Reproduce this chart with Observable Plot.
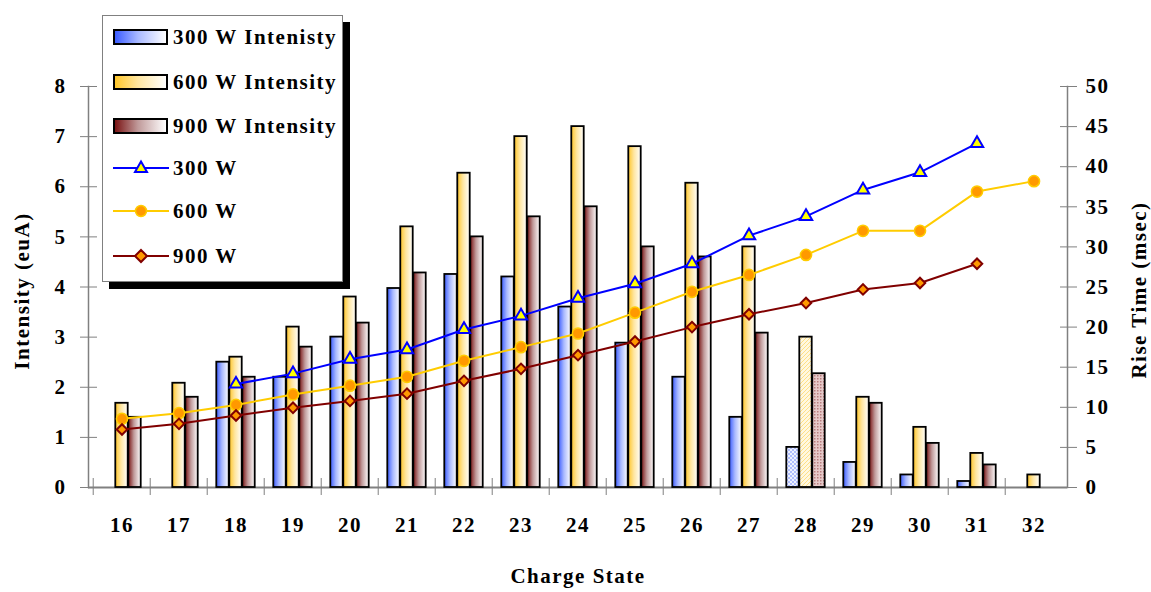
<!DOCTYPE html>
<html>
<head>
<meta charset="utf-8">
<script src="https://cdn.jsdelivr.net/npm/d3@7"></script>
<script src="https://cdn.jsdelivr.net/npm/@observablehq/plot@0.6"></script>
<style>
  body { margin: 0; background: #fff; }
  #wrap { position: relative; width: 1151px; height: 592px; font-family: "Liberation Serif", serif; font-weight: bold; }
  #chart svg text { letter-spacing: 1.5px; }
  #legend { position: absolute; left: 102px; top: 15px; width: 241px; height: 267px; border: 1.5px solid #808080;
            background: #fff; box-shadow: 7px 7px 0 #000; box-sizing: border-box; }
  .row { position: absolute; left: 0; width: 240px; height: 24px; }
  .sw { position: absolute; left: 10px; top: 4px; width: 55px; height: 16px; box-sizing: border-box; border: 2px solid #000; }
  .lbl { position: absolute; left: 70px; top: 0; font-size: 21px; line-height: 24px; letter-spacing: 1.5px; white-space: nowrap; color: #000; }
  .ln { position: absolute; left: 10px; top: 0; }
  #defs { position: absolute; width: 0; height: 0; }
</style>
</head>
<body>
<svg id="defs" aria-hidden="true">
  <defs>
    <linearGradient id="gB" x1="0" x2="1" y1="0" y2="0">
      <stop offset="0" stop-color="#3b5cff"/>
      <stop offset="0.45" stop-color="#a9b9ff"/>
      <stop offset="1" stop-color="#ffffff"/>
    </linearGradient>
    <linearGradient id="gY" x1="0" x2="1" y1="0" y2="0">
      <stop offset="0" stop-color="#ffc62a"/>
      <stop offset="0.45" stop-color="#ffe6a0"/>
      <stop offset="1" stop-color="#ffffff"/>
    </linearGradient>
    <linearGradient id="gR" x1="0" x2="1" y1="0" y2="0">
      <stop offset="0" stop-color="#7a1414"/>
      <stop offset="0.45" stop-color="#c09a9a"/>
      <stop offset="1" stop-color="#ffffff"/>
    </linearGradient>
    <pattern id="pB" width="4" height="4" patternUnits="userSpaceOnUse">
      <rect width="4" height="4" fill="#eef2ff"/>
      <path d="M0,0L4,4M4,0L0,4" stroke="#9fb3ff" stroke-width="0.8"/>
    </pattern>
    <pattern id="pY" width="4" height="4" patternUnits="userSpaceOnUse">
      <rect width="4" height="4" fill="#fff8e0"/>
      <path d="M-1,1L1,-1M0,4L4,0M3,5L5,3" stroke="#ffdf85" stroke-width="1"/>
    </pattern>
    <pattern id="pR" width="3" height="3" patternUnits="userSpaceOnUse">
      <rect width="3" height="3" fill="#e6caca"/>
      <rect width="1.5" height="1.5" fill="#b87f7f"/>
    </pattern>
  </defs>
</svg>
<div id="wrap">
  <div id="chart"></div>
  <div id="legend">
    <div class="row" style="top:9px"><div class="sw" style="background:linear-gradient(to right,#3b5cff,#a9b9ff 45%,#fff)"></div><div class="lbl">300 W Intenisty</div></div>
    <div class="row" style="top:54px"><div class="sw" style="background:linear-gradient(to right,#ffc62a,#ffe6a0 45%,#fff)"></div><div class="lbl">600 W Intensity</div></div>
    <div class="row" style="top:98px"><div class="sw" style="background:linear-gradient(to right,#7a1414,#c09a9a 45%,#fff)"></div><div class="lbl">900 W Intensity</div></div>
    <div class="row" style="top:140px"><svg class="ln" width="56" height="24"><line x1="0" x2="56" y1="12" y2="12" stroke="#0000ff" stroke-width="2"/><path d="M28,5.5L34,16L22,16Z" fill="#ffff00" stroke="#0000ff" stroke-width="2"/></svg><div class="lbl">300 W</div></div>
    <div class="row" style="top:183px"><svg class="ln" width="56" height="24"><line x1="0" x2="56" y1="12" y2="12" stroke="#ffcc00" stroke-width="2"/><circle cx="28" cy="12" r="5.5" fill="#ff9900" stroke="#ffcc00" stroke-width="1.5"/></svg><div class="lbl">600 W</div></div>
    <div class="row" style="top:228px"><svg class="ln" width="56" height="24"><line x1="0" x2="56" y1="12" y2="12" stroke="#800000" stroke-width="2"/><path d="M28,6L34,12L28,18L22,12Z" fill="#ff9900" stroke="#800000" stroke-width="2"/></svg><div class="lbl">900 W</div></div>
  </div>
</div>
<script>
// ---- data ----
const chargeStates = [16, 17, 18, 19, 20, 21, 22, 23, 24, 25, 26, 27, 28, 29, 30, 31, 32];
// Intensity (euA), left axis
const int300 = [null, null, 2.5, 2.2, 3.0, 3.97, 4.25, 4.2, 3.6, 2.88, 2.2, 1.4, 0.8, 0.5, 0.25, 0.12, null];
const int600 = [1.68, 2.08, 2.6, 3.2, 3.8, 5.2, 6.27, 7.0, 7.2, 6.8, 6.07, 4.8, 3.0, 1.8, 1.2, 0.68, 0.25];
const int900 = [1.4, 1.8, 2.2, 2.8, 3.28, 4.28, 5.0, 5.4, 5.6, 4.8, 4.6, 3.08, 2.27, 1.68, 0.88, 0.45, null];
// Rise time (msec), right axis
const rise300 = [null, null, 12.9, 14.2, 16.0, 17.2, 19.7, 21.4, 23.6, 25.4, 27.9, 31.4, 33.8, 37.1, 39.3, 42.9, null];
const rise600 = [8.56, 9.27, 10.3, 11.6, 12.7, 13.8, 15.8, 17.5, 19.2, 21.8, 24.4, 26.5, 29.0, 32.0, 32.0, 36.9, 38.2];
const rise900 = [7.23, 7.94, 8.98, 9.94, 10.8, 11.7, 13.3, 14.8, 16.5, 18.2, 20.0, 21.6, 23.0, 24.7, 25.5, 27.9, null];
const leftTicks = [0, 1, 2, 3, 4, 5, 6, 7, 8];
const rightTicks = [0, 5, 10, 15, 20, 25, 30, 35, 40, 45, 50];
const yMax = 8, tMax = 50;
const patternedState = 28;

// ---- layout ----
const W = 1151, H = 592;
const mL = 88, mR = 84, mT = 86, mB = 105;
const bw = (W - mL - mR) / chargeStates.length;
const barW = 13;
const inset = (bw - barW) / 2;
const k = yMax / tMax; // rise time -> intensity scale

const toRows = (vals) => chargeStates.map((cs, i) => ({cs, v: vals[i]})).filter(d => d.v != null);
const b300 = toRows(int300), b600 = toRows(int600), b900 = toRows(int900);
const r300 = toRows(rise300), r600 = toRows(rise600), r900 = toRows(rise900);

const axisGray = "#808080";
const font = {fontSize: 21, fontWeight: "bold"};

function barMarks(rows, dx, grad, pat) {
  const common = {x: "cs", y: "v", dx, insetLeft: inset, insetRight: inset, stroke: "#000", strokeWidth: 1.8};
  return [
    Plot.barY(rows.filter(d => d.cs !== patternedState), {...common, fill: grad}),
    Plot.barY(rows.filter(d => d.cs === patternedState), {...common, fill: pat})
  ];
}

const chart = Plot.plot({
  width: W, height: H,
  marginLeft: mL, marginRight: mR, marginTop: mT, marginBottom: mB,
  style: {fontFamily: '"Liberation Serif", serif', fontSize: "21px", fontWeight: "bold", background: "#fff", color: "#000"},
  x: {type: "band", domain: chargeStates, padding: 0},
  y: {domain: [0, yMax], nice: false},
  marks: [
    Plot.frame({anchor: "left", stroke: axisGray, strokeWidth: 1.5}),
    Plot.frame({anchor: "right", stroke: axisGray, strokeWidth: 1.5}),
    Plot.ruleY([0], {stroke: axisGray, strokeWidth: 2}),
    ...barMarks(b300, -barW, "url(#gB)", "url(#pB)"),
    ...barMarks(b600, 0, "url(#gY)", "url(#pY)"),
    ...barMarks(b900, barW, "url(#gR)", "url(#pR)"),
    Plot.line(r300, {x: "cs", y: d => d.v * k, stroke: "#0000ff", strokeWidth: 2}),
    Plot.line(r600, {x: "cs", y: d => d.v * k, stroke: "#ffcc00", strokeWidth: 2}),
    Plot.line(r900, {x: "cs", y: d => d.v * k, stroke: "#800000", strokeWidth: 2}),
    Plot.dot(r300, {x: "cs", y: d => d.v * k, symbol: "triangle", r: 4.6, fill: "#ffff00", stroke: "#0000ff", strokeWidth: 2}),
    Plot.dot(r600, {x: "cs", y: d => d.v * k, symbol: "circle", r: 5.6, fill: "#ff9900", stroke: "#ffcc00", strokeWidth: 1.5}),
    Plot.dot(r900, {x: "cs", y: d => d.v * k, symbol: "square", rotate: 45, r: 4.2, fill: "#ff9900", stroke: "#800000", strokeWidth: 2}),
    // left axis
    Plot.axisY(leftTicks, {anchor: "left", tickSize: 17, dx: 9, tickPadding: 14, stroke: axisGray, label: null,
      tickFormat: d => String(d), ...font}),
    // right axis
    Plot.axisY(rightTicks.map(t => t * k), {anchor: "right", tickSize: 17, dx: -8, tickPadding: 9, stroke: axisGray, label: null,
      tickFormat: d => String(Math.round(d / k)), ...font}),
    // x category labels
    Plot.axisX({anchor: "bottom", tickSize: 0, tickPadding: 30, label: null, ...font}),
    // x boundary ticks
    Plot.axisX({anchor: "bottom", tickSize: 17, dy: -9, dx: -bw / 2, tickFormat: () => "", stroke: axisGray, label: null}),
    // axis titles
    Plot.text(["Charge State"], {frameAnchor: "bottom", text: d => d, textAnchor: "middle", dy: 95, ...font}),
    Plot.text(["Intensity (euA)"], {frameAnchor: "left", text: d => d, textAnchor: "middle", rotate: -90, dx: -66, dy: 4, ...font}),
    Plot.text(["Rise Time (msec)"], {frameAnchor: "right", text: d => d, textAnchor: "middle", rotate: -90, dx: 72, dy: 3, ...font})
  ]
});
document.getElementById("chart").appendChild(chart);
</script>
</body>
</html>
